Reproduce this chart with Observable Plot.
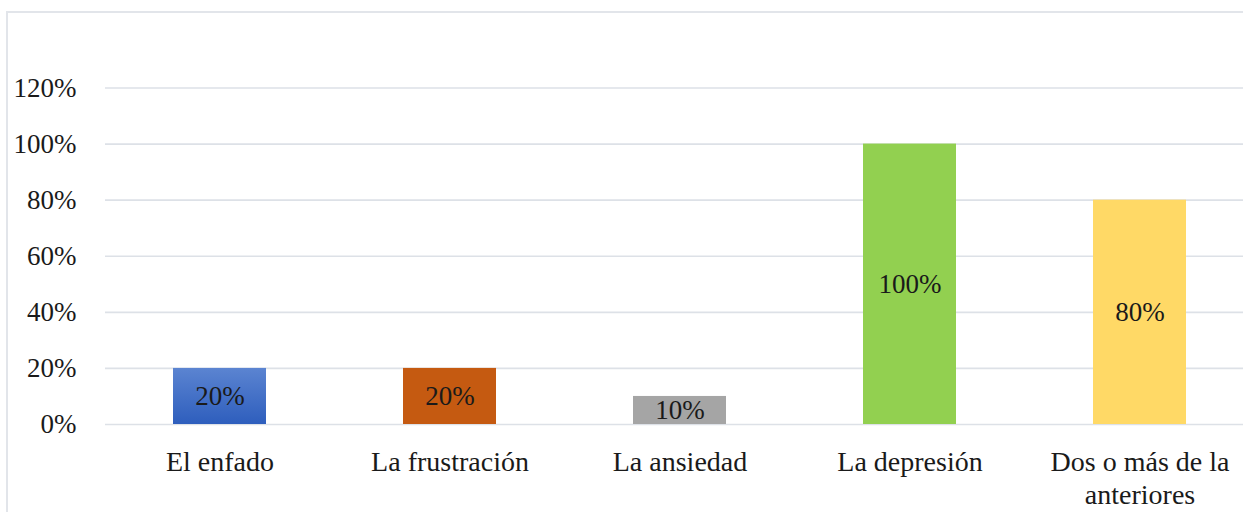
<!DOCTYPE html>
<html><head><meta charset="utf-8">
<script src="https://cdn.jsdelivr.net/npm/d3@7"></script>
<script src="https://cdn.jsdelivr.net/npm/@observablehq/plot@0.6"></script>
<style>
body{margin:0;background:#fff;}
#wrap{position:relative;width:1243px;height:512px;overflow:hidden;}
#frame{position:absolute;left:6px;top:11px;width:1400px;height:700px;border:2px solid #e2e5ea;box-sizing:border-box;}
#chart{position:absolute;left:0;top:0;}
</style></head><body>
<div id="wrap"><div id="frame"></div><div id="chart"></div></div>
<script>
const categories = ["El enfado","La frustración","La ansiedad","La depresión","Dos o más de la anteriores"];
const categoryLabels = ["El enfado","La frustración","La ansiedad","La depresión","Dos o más de la\nanteriores"];
const values = [0.2, 0.2, 0.1, 1.0, 0.8];
const colors = ["url(#gradBlue)", "#c55a11", "#a5a5a5", "#92d050", "#ffd966"];
const yTicks = [0, 0.2, 0.4, 0.6, 0.8, 1.0, 1.2];

const data = categories.map((c, i) => ({c, v: values[i], col: colors[i]}));
const pct = d3.format(".0%");
const font = "'Times New Roman', Tinos, 'Liberation Serif', 'DejaVu Serif', serif";

const chart = Plot.plot({
  width: 1243,
  height: 512,
  marginLeft: 105,
  marginRight: 0,
  marginTop: 87,
  marginBottom: 88,
  style: {background: "transparent", color: "#1a1a1a"},
  x: {type: "band", domain: categories, range: [104.5, 1254.5], paddingInner: 0.596, paddingOuter: 0.298},
  y: {domain: [0, 1.2], range: [424, 87.5]},
  color: {type: "identity"},
  marks: [
    Plot.ruleY(yTicks, {stroke: "#dde1e7", strokeWidth: 1.6}),
    Plot.barY(data, {x: "c", y: "v", fill: d => d.col}),
    Plot.text(data, {x: "c", y: d => d.v / 2, text: d => pct(d.v), fontSize: 27, fill: "#1a1a1a"}),
    Plot.axisY(yTicks, {tickFormat: pct, tickSize: 0, tickPadding: 29, fontSize: 27, label: null, fill: "#1a1a1a"}),
    Plot.axisX({tickSize: 0, tickPadding: 24, fontSize: 28, label: null, lineHeight: 1.15, fill: "#1a1a1a",
      tickFormat: d => categoryLabels[categories.indexOf(d)]})
  ]
});

chart.style.fontFamily = font;
d3.select(chart).selectAll("text").style("font-family", font);

const defs = d3.select(chart).insert("defs", ":first-child");
const g = defs.append("linearGradient").attr("id", "gradBlue").attr("x1", 0).attr("y1", 0).attr("x2", 0).attr("y2", 1);
g.append("stop").attr("offset", "0%").attr("stop-color", "#5b84d1");
g.append("stop").attr("offset", "100%").attr("stop-color", "#2e5ebd");

document.getElementById("chart").appendChild(chart);
</script>
</body></html>
